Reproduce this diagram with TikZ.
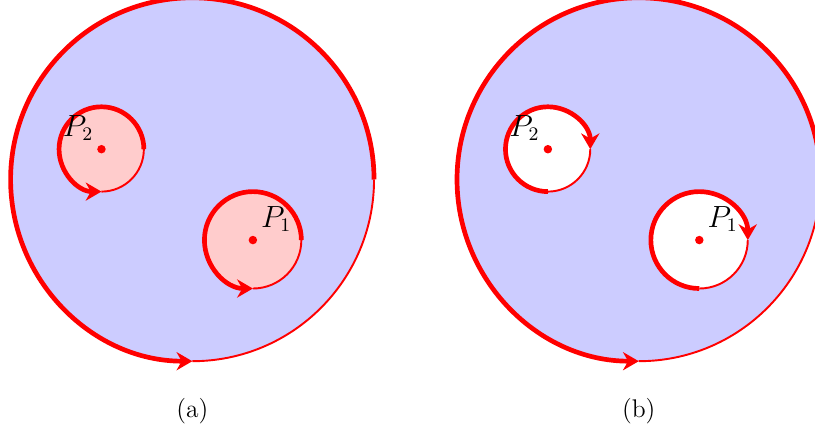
\documentclass[tikz,border=0pt]{standalone}
\usetikzlibrary{arrows.meta}

\begin{document}
\begin{tikzpicture}[
  bord/.style={draw=red, line width=2.2pt},
  thinbord/.style={draw=red, line width=0.9pt},
  tip/.style={-{Stealth[length=2.6mm, width=3mm]}},
  pt/.style={circle, fill=red, inner sep=0pt, minimum size=1.4mm},
  lab/.style={font=\fontsize{13.5}{16}\selectfont, label distance=-0.6mm},
  sublbl/.style={font=\large}
]
\useasboundingbox (-3.175,-4.2) rectangle (10.28,2.963);

% ---------- (a) ----------
\begin{scope}
  \fill[blue!20] (0,0) circle (3);
  \fill[red!20] (-1.5,0.5) circle (0.7);
  \fill[red!20] (1,-1) circle (0.8);
  \coordinate (ca2) at (-1.5,0.5);
  \coordinate (ca1) at (1,-1);
  % outer boundary
  \draw[bord, tip] (3,0) arc[start angle=0, end angle=270, radius=3];
  \draw[thinbord] (0,-3) arc[start angle=270, end angle=360, radius=3];
  % holes
  \draw[bord, tip] ([shift={(0.7,0)}]ca2) arc[start angle=0, end angle=270, radius=0.7];
  \draw[thinbord] ([shift={(0,-0.7)}]ca2) arc[start angle=270, end angle=360, radius=0.7];
  \draw[bord, tip] ([shift={(0.8,0)}]ca1) arc[start angle=0, end angle=270, radius=0.8];
  \draw[thinbord] ([shift={(0,-0.8)}]ca1) arc[start angle=270, end angle=360, radius=0.8];
  \node[pt, label={[lab]above left:$P_2$}] (pa2) at (ca2) {};
  \node[pt, label={[lab]above right:$P_1$}] (pa1) at (ca1) {};
  \node[sublbl] (capa) at (0,-3.82) {(a)};
\end{scope}

% ---------- (b) ----------
\begin{scope}[shift={(7.37,0)}]
  \fill[blue!20] (0,0) circle (3);
  \fill[white] (-1.5,0.5) circle (0.7);
  \fill[white] (1,-1) circle (0.8);
  \coordinate (cb2) at (-1.5,0.5);
  \coordinate (cb1) at (1,-1);
  % outer boundary
  \draw[bord, tip] (3,0) arc[start angle=0, end angle=270, radius=3];
  \draw[thinbord] (0,-3) arc[start angle=270, end angle=360, radius=3];
  % holes, clockwise
  \draw[bord, tip] ([shift={(0,-0.7)}]cb2) arc[start angle=270, end angle=0, radius=0.7];
  \draw[thinbord] ([shift={(0.7,0)}]cb2) arc[start angle=0, end angle=-90, radius=0.7];
  \draw[bord, tip] ([shift={(0,-0.8)}]cb1) arc[start angle=270, end angle=0, radius=0.8];
  \draw[thinbord] ([shift={(0.8,0)}]cb1) arc[start angle=0, end angle=-90, radius=0.8];
  \node[pt, label={[lab]above left:$P_2$}] (pb2) at (cb2) {};
  \node[pt, label={[lab]above right:$P_1$}] (pb1) at (cb1) {};
  \node[sublbl] (capb) at (0,-3.82) {(b)};
\end{scope}

\end{tikzpicture}
\end{document}
